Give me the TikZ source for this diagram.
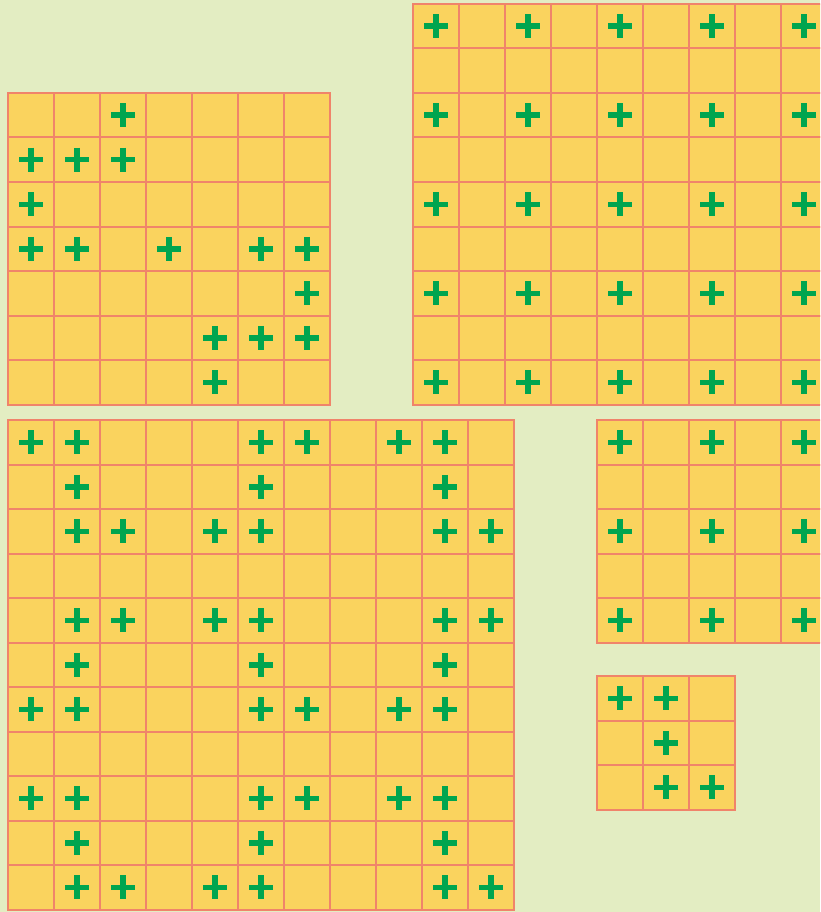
\documentclass[tikz,border=0pt]{standalone}
\usepackage{tikz}

\definecolor{fundo}{HTML}{E3EDC2}
\definecolor{casa}{HTML}{FAD35E}
\definecolor{borda}{HTML}{F0846A}
\definecolor{verde}{HTML}{00A54F}

\tikzset{
  celula/.style={fill=casa, draw=borda, line width=2pt},
  plussign/.style={draw=verde, line width=5.5pt}
}

% grelha: origem x, origem y, colunas, linhas
\newcommand{\grelha}[4]{%
  \foreach \c in {1,...,#3} {
    \foreach \r in {1,...,#4} {
      \draw[celula] ({#1+46*(\c-1)},{#2+44.5*(\r-1)}) rectangle ++(46,44.5);
    }
  }
}
% sinal de mais na casa (coluna, linha) da grelha com origem x, y
\newcommand{\mais}[4]{%
  \draw[plussign] ({#1+46*(#3+0.5)-12},{#2+44.5*(#4+0.5)}) -- ++(24,0);
  \draw[plussign] ({#1+46*(#3+0.5)},{#2+44.5*(#4+0.5)-12}) -- ++(0,24);
}

\begin{document}
\begin{tikzpicture}[x=1pt, y=-1pt]
\fill[fundo] (0,0) rectangle (820,912);
\useasboundingbox (0,0) rectangle (820,912);
\begin{scope}
  \clip (0,0) rectangle (820,912);

  % grelha 7x7 (topo, esquerda)
  \grelha{8}{93}{7}{7}
  \foreach \c/\r in {2/0, 0/1,1/1,2/1, 0/2, 0/3,1/3,3/3,5/3,6/3,
                     6/4, 4/5,5/5,6/5, 4/6}
    {\mais{8}{93}{\c}{\r}}

  % grelha 9x9 (topo, direita)
  \grelha{413}{4}{9}{9}
  \foreach \c in {0,2,...,8} {
    \foreach \r in {0,2,...,8} {\mais{413}{4}{\c}{\r}}
  }

  % grelha 11x11 (baixo, esquerda)
  \grelha{8}{420}{11}{11}
  \foreach \r in {0,6,8} {
    \foreach \c in {0,1,5,6,8,9} {\mais{8}{420}{\c}{\r}}
  }
  \foreach \r in {1,5,9} {
    \foreach \c in {1,5,9} {\mais{8}{420}{\c}{\r}}
  }
  \foreach \r in {2,4,10} {
    \foreach \c in {1,2,4,5,9,10} {\mais{8}{420}{\c}{\r}}
  }

  % grelha 5x5 (meio, direita)
  \grelha{597}{420}{5}{5}
  \foreach \c in {0,2,4} {
    \foreach \r in {0,2,4} {\mais{597}{420}{\c}{\r}}
  }

  % grelha 3x3 (baixo, direita)
  \grelha{597}{676}{3}{3}
  \foreach \c/\r in {0/0,1/0, 1/1, 1/2,2/2}
    {\mais{597}{676}{\c}{\r}}
\end{scope}
\end{tikzpicture}
\end{document}
